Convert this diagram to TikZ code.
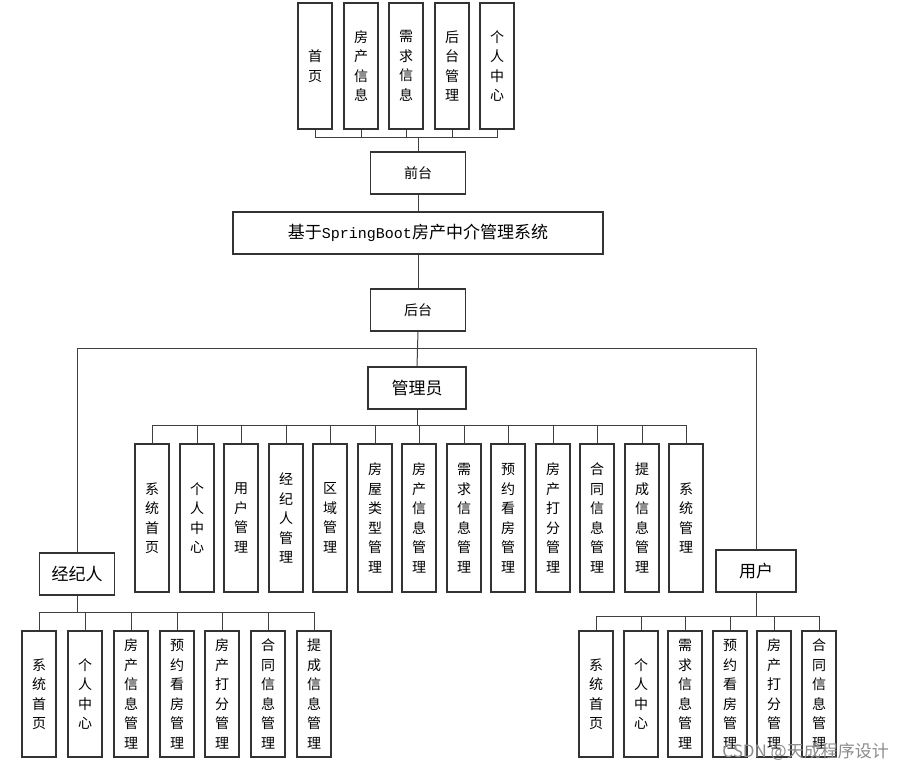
\documentclass[tikz,border=0pt]{standalone}
\usepackage{fontspec}
\setmainfont{Noto Sans CJK SC}
\newfontfamily\latinmono{Liberation Mono}
\begin{document}
\begin{tikzpicture}[x=1pt,y=-1pt,
  ln/.style={draw=black!75,line width=1pt},
  bx/.style={draw=black!80,line width=1.1pt,fill=white,inner sep=0pt,align=center},
  tallbox/.style={bx,minimum width=34,font=\fontsize{14}{19.5}\selectfont},
  toph/.style={tallbox,minimum height=126},
  admh/.style={tallbox,minimum height=148},
  lowh/.style={tallbox,minimum height=126},
  midbox/.style={bx,minimum width=95,minimum height=42,font=\fontsize{14}{16}\selectfont},
  rolebox/.style={bx,minimum height=42,font=\fontsize{17}{19}\selectfont},
]
\useasboundingbox (0,0) rectangle (905,772);
\fill[white] (0,0) rectangle (905,772);

% top row
\node[toph] (t1) at (315,66) {首\\页};
\node[toph] (t2) at (361,66) {房\\产\\信\\息};
\node[toph] (t3) at (406,66) {需\\求\\信\\息};
\node[toph] (t4) at (452,66) {后\\台\\管\\理};
\node[toph] (t5) at (497,66) {个\\人\\中\\心};
\node[midbox] (qt) at (418,173) {前台};
\node[bx,minimum width=370,minimum height=42,font=\fontsize{17}{19}\selectfont] (sys) at (418,233) {基于{\latinmono\fontsize{15}{18}\selectfont SpringBoot}房产中介管理系统};
\node[midbox] (ht) at (418,310) {后台};
\node[rolebox,minimum width=98] (gly) at (417,388) {管理员};
\node[rolebox,minimum width=75] (jjr) at (77,574) {经纪人};
\node[rolebox,minimum width=80] (yh) at (756,571) {用户};

\coordinate (tb) at (418,137);
\foreach \c in {t1,t2,t3,t4,t5}{\draw[ln] (\c.south) |- (tb);}
\draw[ln] (tb) -- (qt.north);
\draw[ln] (qt.south) -- (sys.north);
\draw[ln] (sys.south) -- (ht.north);
\draw[ln] (ht.south) -- (gly.north);
\coordinate (hb) at (418,348);
\draw[ln] (hb) -| (jjr.north);
\draw[ln] (hb) -| (yh.north);

% admin children
\node[admh] (a1) at (152,518) {系\\统\\首\\页};
\node[admh] (a2) at (197,518) {个\\人\\中\\心};
\node[admh] (a3) at (241,518) {用\\户\\管\\理};
\node[admh] (a4) at (286,518) {经\\纪\\人\\管\\理};
\node[admh] (a5) at (330,518) {区\\域\\管\\理};
\node[admh] (a6) at (375,518) {房\\屋\\类\\型\\管\\理};
\node[admh] (a7) at (419,518) {房\\产\\信\\息\\管\\理};
\node[admh] (a8) at (464,518) {需\\求\\信\\息\\管\\理};
\node[admh] (a9) at (508,518) {预\\约\\看\\房\\管\\理};
\node[admh] (a10) at (553,518) {房\\产\\打\\分\\管\\理};
\node[admh] (a11) at (597,518) {合\\同\\信\\息\\管\\理};
\node[admh] (a12) at (642,518) {提\\成\\信\\息\\管\\理};
\node[admh] (a13) at (686,518) {系\\统\\管\\理};
\coordinate (ab) at (417,425);
\draw[ln] (gly.south) -- (ab);
\foreach \c in {a1,a2,a3,a4,a5,a6,a7,a8,a9,a10,a11,a12,a13}{\draw[ln] (ab) -| (\c.north);}

% agent children
\node[lowh] (j1) at (39,694) {系\\统\\首\\页};
\node[lowh] (j2) at (85,694) {个\\人\\中\\心};
\node[lowh] (j3) at (131,694) {房\\产\\信\\息\\管\\理};
\node[lowh] (j4) at (177,694) {预\\约\\看\\房\\管\\理};
\node[lowh] (j5) at (222,694) {房\\产\\打\\分\\管\\理};
\node[lowh] (j6) at (268,694) {合\\同\\信\\息\\管\\理};
\node[lowh] (j7) at (314,694) {提\\成\\信\\息\\管\\理};
\coordinate (jb) at (77,612);
\draw[ln] (jjr.south) -- (jb);
\foreach \c in {j1,j2,j3,j4,j5,j6,j7}{\draw[ln] (jb) -| (\c.north);}

% user children
\node[lowh] (u1) at (596,694) {系\\统\\首\\页};
\node[lowh] (u2) at (641,694) {个\\人\\中\\心};
\node[lowh] (u3) at (685,694) {需\\求\\信\\息\\管\\理};
\node[lowh] (u4) at (730,694) {预\\约\\看\\房\\管\\理};
\node[lowh] (u5) at (774,694) {房\\产\\打\\分\\管\\理};
\node[lowh] (u6) at (819,694) {合\\同\\信\\息\\管\\理};
\coordinate (ub) at (756,616);
\draw[ln] (yh.south) -- (ub);
\foreach \c in {u1,u2,u3,u4,u5,u6}{\draw[ln] (ub) -| (\c.north);}

% watermark
\node[text=black!45,font=\fontsize{17}{19}\selectfont,inner sep=0pt,anchor=east] (wm) at (889,752) {CSDN @天成程序设计};
\end{tikzpicture}
\end{document}
